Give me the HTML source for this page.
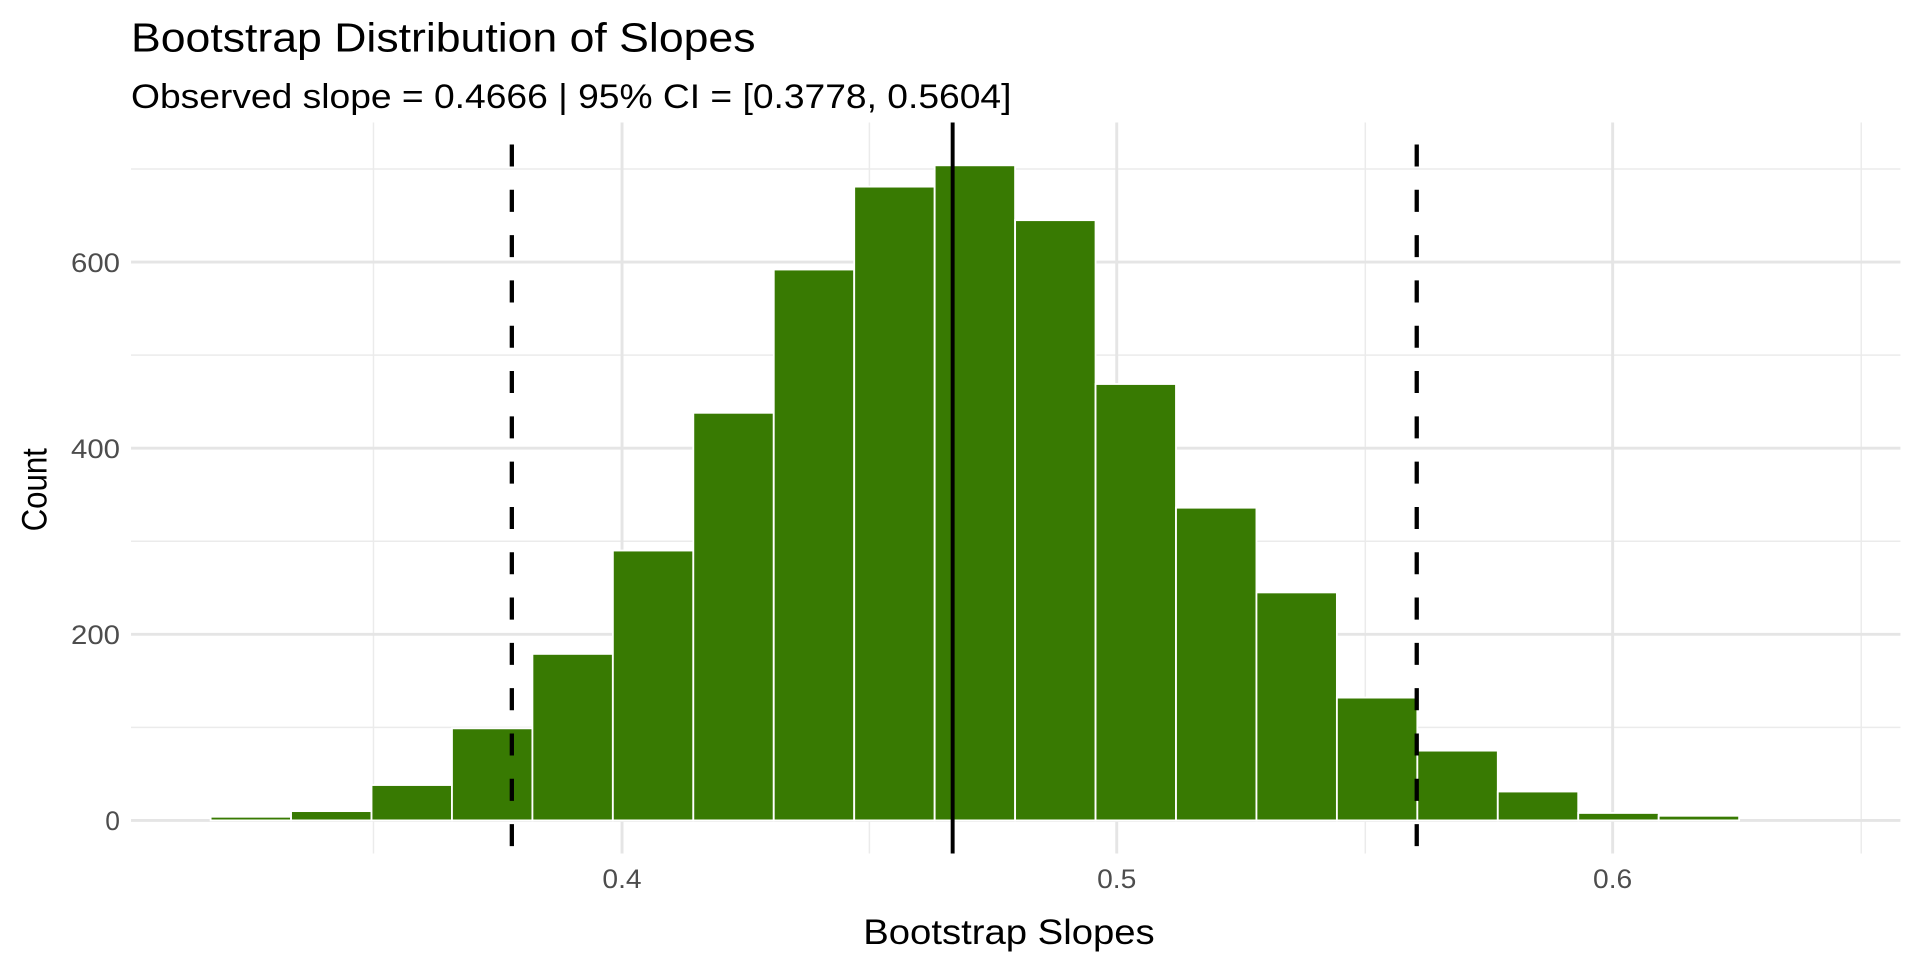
<!DOCTYPE html>
<html><head><meta charset="utf-8"><style>html,body{margin:0;padding:0;background:#fff}svg{display:block}</style></head>
<body>
<svg width="1920" height="960" viewBox="0 0 1568 784" xmlns="http://www.w3.org/2000/svg" font-family="Liberation Sans, sans-serif">
<rect width="1568" height="784" fill="#fff"/>
<g stroke="#ebebeb" stroke-width="1.2">
<line x1="107" x2="1552" y1="594" y2="594"/><line x1="107" x2="1552" y1="442" y2="442"/><line x1="107" x2="1552" y1="290" y2="290"/><line x1="107" x2="1552" y1="138" y2="138"/>
<line x1="305" x2="305" y1="100" y2="697"/><line x1="710" x2="710" y1="100" y2="697"/><line x1="1115" x2="1115" y1="100" y2="697"/><line x1="1520" x2="1520" y1="100" y2="697"/>
</g>
<g stroke="#e5e5e5" stroke-width="2.4">
<line x1="107" x2="1552" y1="670" y2="670"/><line x1="107" x2="1552" y1="518" y2="518"/><line x1="107" x2="1552" y1="366" y2="366"/><line x1="107" x2="1552" y1="214" y2="214"/>
<line x1="508" x2="508" y1="100" y2="697"/><line x1="912" x2="912" y1="100" y2="697"/><line x1="1317" x2="1317" y1="100" y2="697"/>
</g>
<g fill="#387a02" stroke="#fff" stroke-width="1.5">
<rect x="172" y="667" width="65.7" height="3"/>
<rect x="237.7" y="662.4" width="65.7" height="7.6"/>
<rect x="303.4" y="641.1" width="65.7" height="28.9"/>
<rect x="369.1" y="594.8" width="65.7" height="75.2"/>
<rect x="434.8" y="534" width="65.7" height="136"/>
<rect x="500.5" y="449.6" width="65.7" height="220.4"/>
<rect x="566.2" y="337.1" width="65.7" height="332.9"/>
<rect x="631.9" y="220.1" width="65.7" height="449.9"/>
<rect x="697.6" y="152.4" width="65.7" height="517.6"/>
<rect x="763.3" y="135" width="65.7" height="535"/>
<rect x="829" y="179.8" width="65.7" height="490.2"/>
<rect x="894.7" y="313.6" width="65.7" height="356.4"/>
<rect x="960.4" y="414.6" width="65.7" height="255.4"/>
<rect x="1026.1" y="483.8" width="65.7" height="186.2"/>
<rect x="1091.8" y="569.7" width="65.7" height="100.3"/>
<rect x="1157.5" y="613" width="65.7" height="57"/>
<rect x="1223.2" y="646.4" width="65.7" height="23.6"/>
<rect x="1288.9" y="663.9" width="65.7" height="6.1"/>
<rect x="1354.6" y="666.2" width="65.7" height="3.8"/>
</g>
<g stroke="#000" stroke-width="3.5">
<line x1="418" x2="418" y1="118" y2="697" stroke-dasharray="18,19"/>
<line x1="1157" x2="1157" y1="118" y2="697" stroke-dasharray="18,19"/>
<line x1="778" x2="778" y1="100" y2="697" stroke-width="3.2"/>
</g>
<g fill="#4d4d4d" font-size="22" text-anchor="end">
<text x="98" y="678" textLength="12" lengthAdjust="spacingAndGlyphs">0</text><text x="98" y="526" textLength="40" lengthAdjust="spacingAndGlyphs">200</text><text x="98" y="374" textLength="40" lengthAdjust="spacingAndGlyphs">400</text><text x="98" y="222" textLength="40" lengthAdjust="spacingAndGlyphs">600</text>
</g>
<g fill="#4d4d4d" font-size="22">
<text x="492" y="725" textLength="32" lengthAdjust="spacingAndGlyphs">0.4</text><text x="896" y="725" textLength="32" lengthAdjust="spacingAndGlyphs">0.5</text><text x="1301" y="725" textLength="32" lengthAdjust="spacingAndGlyphs">0.6</text>
</g>
<text x="705" y="771" font-size="29" fill="#000" textLength="238" lengthAdjust="spacingAndGlyphs">Bootstrap Slopes</text>
<text transform="translate(38,400) rotate(-90)" font-size="29" fill="#000" x="-34" textLength="68" lengthAdjust="spacingAndGlyphs">Count</text>
<text x="107" y="42" font-size="33" fill="#000" textLength="510" lengthAdjust="spacingAndGlyphs">Bootstrap Distribution of Slopes</text>
<text x="107" y="88" font-size="28" fill="#000" textLength="719" lengthAdjust="spacingAndGlyphs">Observed slope = 0.4666 | 95% CI = [0.3778, 0.5604]</text>
</svg>
</body></html>
